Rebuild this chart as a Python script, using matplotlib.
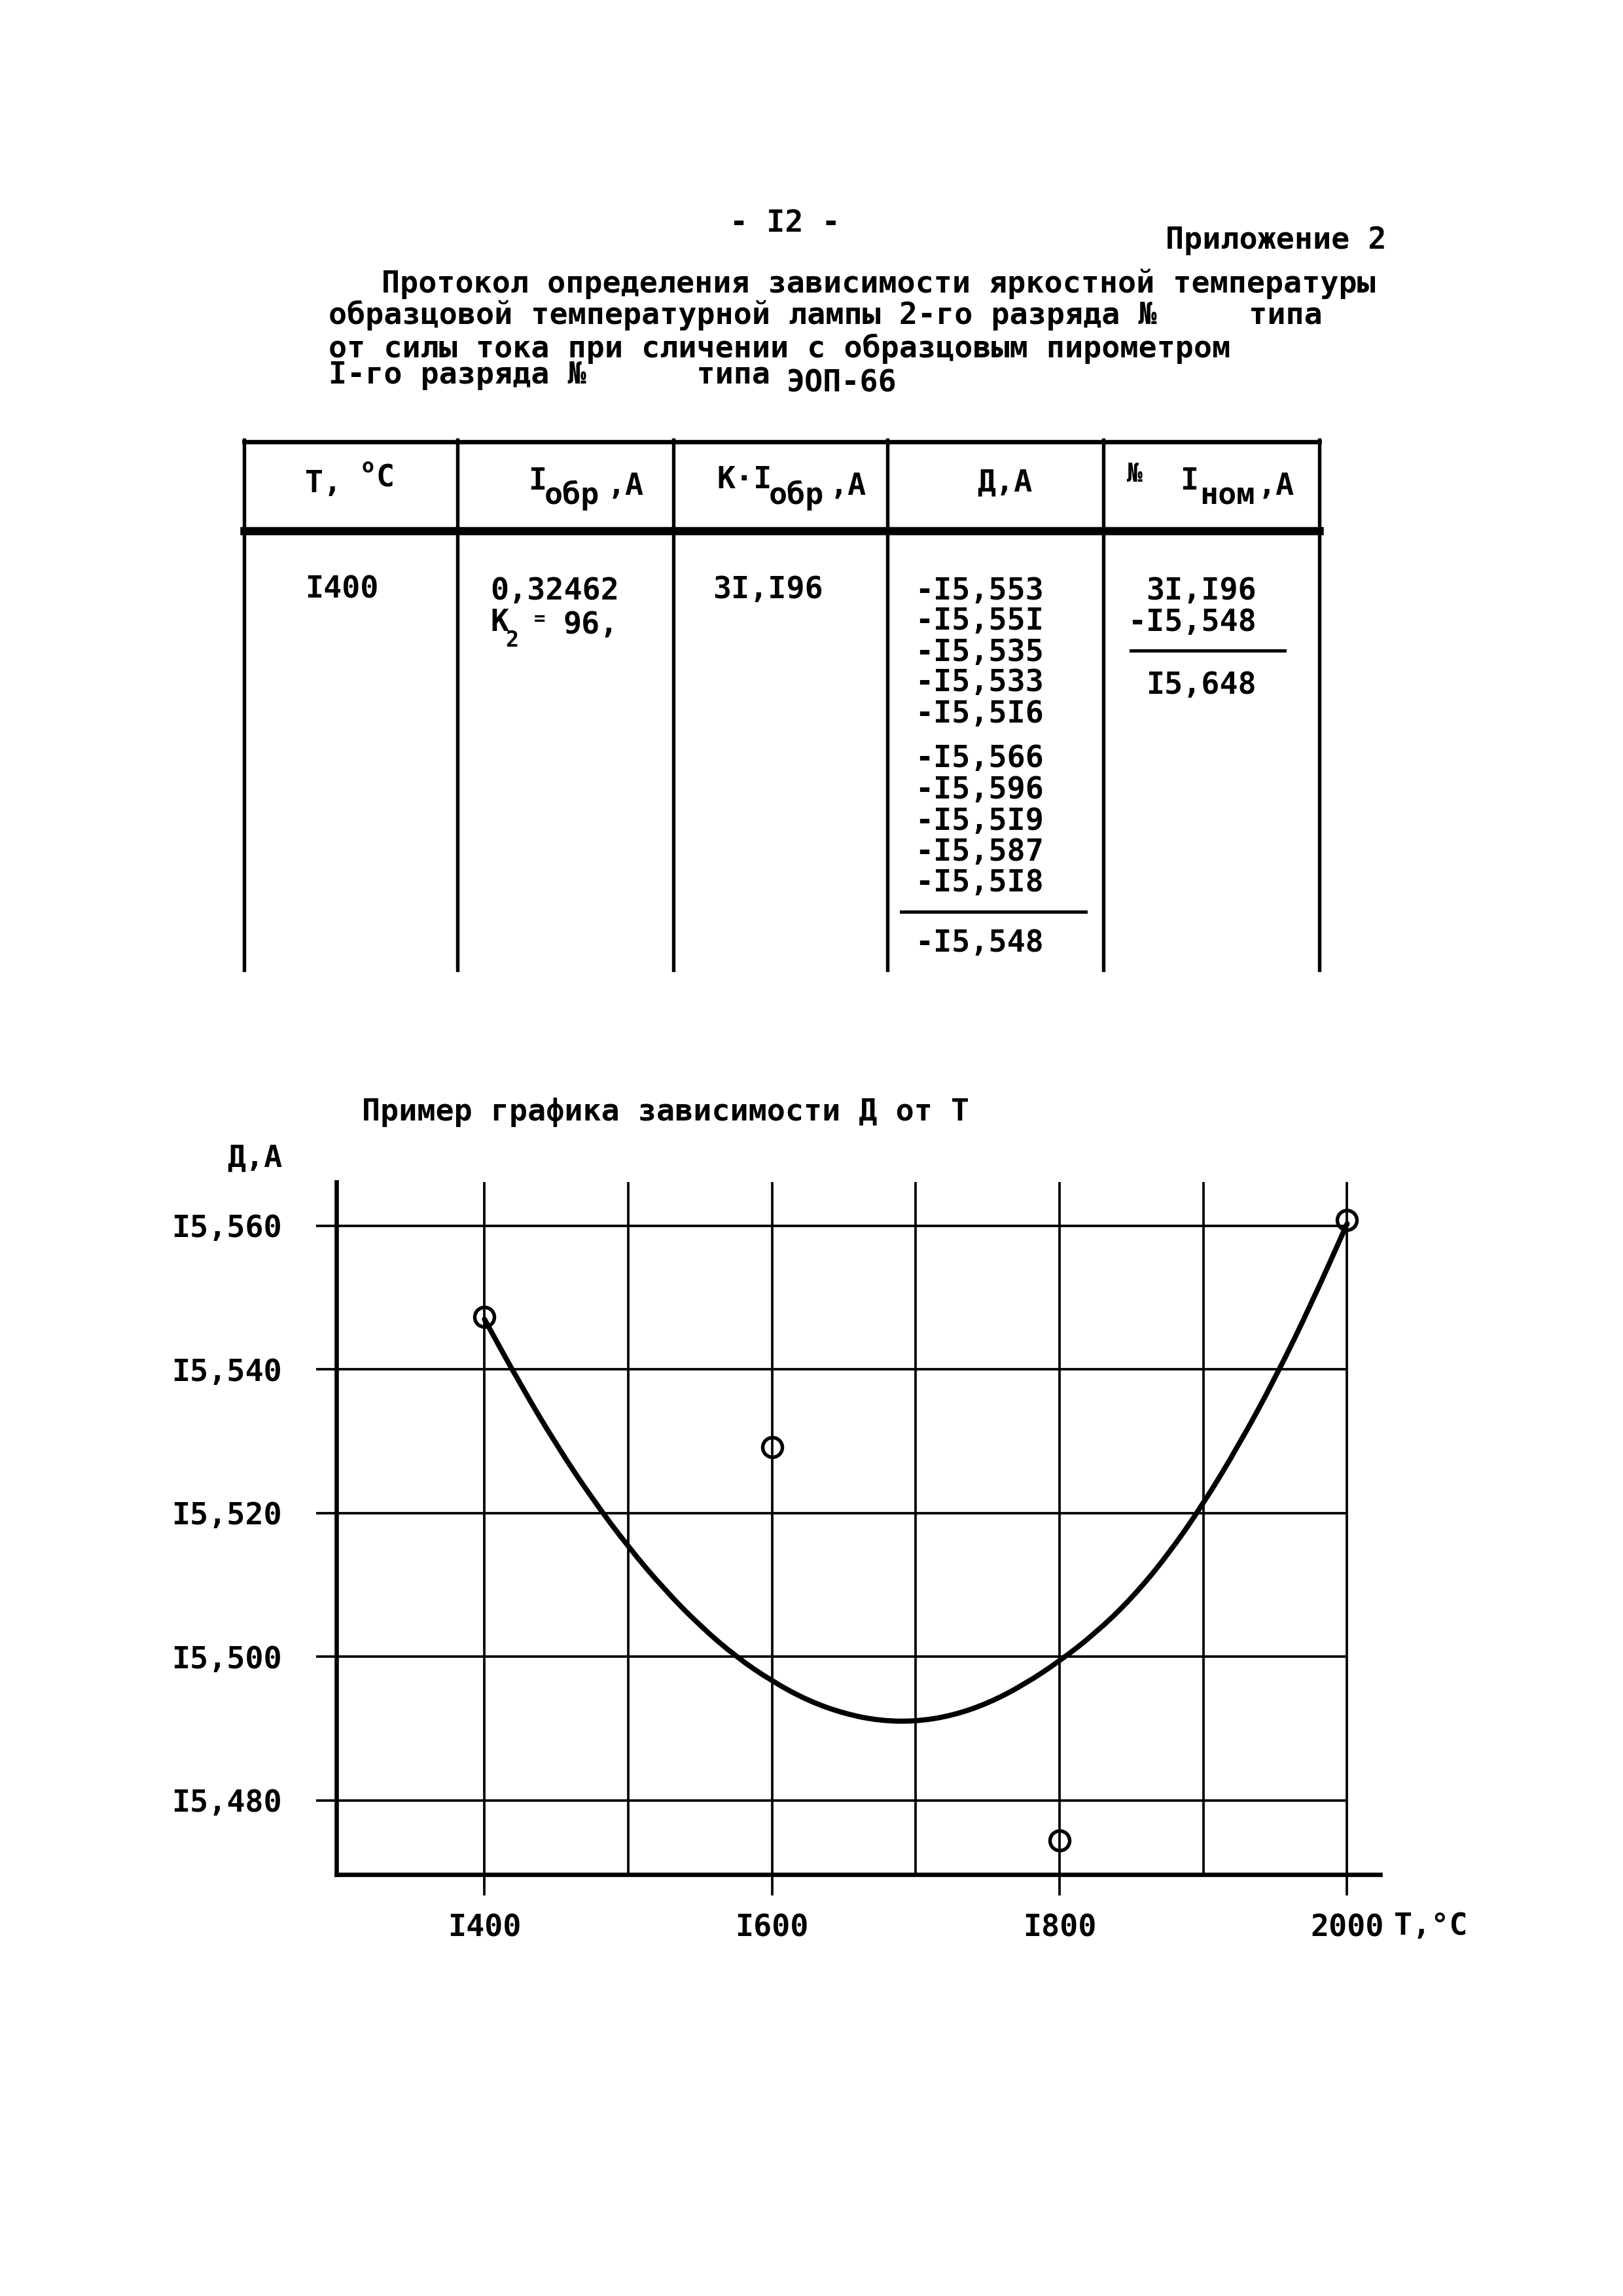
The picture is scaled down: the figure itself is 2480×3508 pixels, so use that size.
import matplotlib
matplotlib.use("Agg")
import matplotlib.pyplot as plt
from matplotlib.path import Path
from matplotlib.patches import PathPatch

FONT = ["DejaVu Sans Mono", "DejaVu Sans"]
plt.rcParams['font.family'] = FONT
plt.rcParams['font.weight'] = 'bold'

# ---------------- data ----------------
page_number = "- I2 -"
appendix_label = "Приложение 2"
protocol_lines = [
    "Протокол определения зависимости яркостной температуры",
    "образцовой температурной лампы 2-го разряда №     типа",
    "от силы тока при сличении с образцовым пирометром",
    "I-го разряда №      типа",
]
pyrometer_type = "ЭОП-66"

table_T = "I400"
table_I_obr = "0,32462"
table_K_value = "96,"
table_KI = "3I,I96"
table_D_group1 = ["-I5,553", "-I5,55I", "-I5,535", "-I5,533", "-I5,5I6"]
table_D_group2 = ["-I5,566", "-I5,596", "-I5,5I9", "-I5,587", "-I5,5I8"]
table_D_mean = "-I5,548"
table_I_nom_terms = ["3I,I96", "-I5,548"]
table_I_nom = "I5,648"

chart_title = "Пример графика зависимости Д от Т"
y_label = "Д,А"
x_label = "T,°C"
point_T = [1400, 1600, 1800, 2000]
point_D = [15547.3, 15529.2, 15474.4, 15560.8]
curve_T = [1400, 1425, 1450, 1475, 1500, 1525, 1550, 1575, 1600, 1625, 1650, 1675,
           1700, 1725, 1750, 1775, 1800, 1825, 1850, 1875, 1900, 1925, 1950, 1975, 2000]
curve_D = [15547.0, 15537.9, 15529.5, 15522.0, 15515.3, 15509.4, 15504.3, 15500.0,
           15496.6, 15493.9, 15492.1, 15491.1, 15491.0, 15491.8, 15493.5, 15496.1,
           15499.4, 15503.3, 15508.1, 15514.1, 15521.3, 15529.6, 15538.8, 15549.1, 15560.3]
y_ticks = [15480, 15500, 15520, 15540, 15560]
y_tick_labels = ["I5,480", "I5,500", "I5,520", "I5,540", "I5,560"]
x_ticks = [1400, 1600, 1800, 2000]
x_tick_labels = ["I400", "I600", "I800", "2000"]
x_minor_grid = [1500, 1700, 1900]

# ---------------- figure ----------------
W, H = 2480, 3508
fig = plt.figure(figsize=(W / 300, H / 300), dpi=300)
fig.patch.set_facecolor("white")

page = fig.add_axes([0, 0, 1, 1])
page.set_xlim(0, W)
page.set_ylim(H, 0)
page.axis("off")

FS = 11.2
K = "black"

def txt(x, y, s, ha="left", va="center", fs=FS, **kw):
    page.text(x, y, s, ha=ha, va=va, fontsize=fs, color=K, fontweight="bold", **kw)

# header
txt(1199, 341, page_number, ha="center")
txt(2118, 368, appendix_label, ha="right")
line_pos = [(583, 434), (502, 482), (502, 533), (502, 574)]
for (x, y), s in zip(line_pos, protocol_lines):
    txt(x, y, s)
txt(502 + 25 * 28, 586, pyrometer_type)

# table lines
cols = [373, 699, 1029, 1356, 1686, 2016]
page.plot([cols[0], cols[-1]], [675, 675], color=K, lw=1.6)
page.plot([cols[0], cols[-1]], [811, 811], color=K, lw=3.0)
for c in cols:
    page.plot([c, c], [672, 1482], color=K, lw=1.3)

# table header
txt(466, 740, "T,")
txt(552, 713, "o", fs=7.5)
txt(574, 731, "C")
txt(807, 736, "I")
txt(832, 757, "обр")
txt(928, 743, ",A")
txt(1095, 733, "К·I")
txt(1175, 757, "обр")
txt(1268, 743, ",A")
txt(1535, 738, "Д,А", ha="center")
txt(1721, 724, "№", fs=9.5)
txt(1803, 736, "I")
txt(1833, 758, "ном")
txt(1922, 743, ",A")

# table body
txt(466, 901, table_T)
txt(749, 903, table_I_obr)
txt(749, 952, "К")
txt(772, 978, "2", fs=8)
txt(816, 946, "=", fs=7)
txt(860, 956, table_K_value)
txt(1089, 901, table_KI)
for i, s in enumerate(table_D_group1):
    txt(1398, 903 + i * 47, s)
for i, s in enumerate(table_D_group2):
    txt(1398, 1160 + i * 47.5, s)
page.plot([1377, 1659], [1393, 1393], color=K, lw=1.2)
txt(1398, 1442, table_D_mean)
for i, s in enumerate(table_I_nom_terms):
    txt(1920, 903 + i * 48, s, ha="right")
page.plot([1728, 1963], [994, 994], color=K, lw=1.2)
txt(1920, 1048, table_I_nom, ha="right")

# chart texts
txt(553, 1700, chart_title)
txt(431, 1770, y_label, ha="right")
txt(2130, 2943, x_label)

# ---------------- chart ----------------
ax_l, ax_r, ax_t, ax_b = 514, 2109, 1806, 2864
ax = fig.add_axes([ax_l / W, 1 - ax_b / H, (ax_r - ax_l) / W, (ax_b - ax_t) / H])
ax.set_facecolor("none")
ax.set_xlim(1297, 2023)
ax.set_ylim(15469.7, 15566.1)
for side in ("top", "right"):
    ax.spines[side].set_visible(False)
for side in ("left", "bottom"):
    ax.spines[side].set_linewidth(1.6)
    ax.spines[side].set_color(K)

ax.set_yticks(y_ticks, y_tick_labels)
ax.set_xticks(x_ticks, x_tick_labels)
ax.tick_params(axis="y", length=0, pad=20, labelsize=FS)
ax.tick_params(axis="x", length=7.7, width=0.9, direction="out", pad=6.5, labelsize=FS)
for lab in ax.get_xticklabels() + ax.get_yticklabels():
    lab.set_fontweight("bold")

ax.hlines(y_ticks, 1283, 2000, colors=K, lw=0.9, clip_on=False)
ax.vlines(x_ticks + x_minor_grid, 15469.7, 15566.1, colors=K, lw=0.9)

# smooth hand-drawn curve: read points used as quadratic Bezier controls
pts = list(zip(curve_T, curve_D))
verts = [pts[0], ((pts[0][0] + pts[1][0]) / 2, (pts[0][1] + pts[1][1]) / 2)]
codes = [Path.MOVETO, Path.LINETO]
for i in range(1, len(pts) - 1):
    nxt = pts[i + 1]
    verts += [pts[i], ((pts[i][0] + nxt[0]) / 2, (pts[i][1] + nxt[1]) / 2)]
    codes += [Path.CURVE3, Path.CURVE3]
verts.append(pts[-1])
codes.append(Path.LINETO)
ax.add_patch(PathPatch(Path(verts, codes), fill=False, edgecolor=K, lw=1.9,
                       capstyle="round", joinstyle="round"))

ax.plot(point_T, point_D, "o", mfc="none", mec=K, ms=7.2, mew=1.3, clip_on=False)

fig.savefig("out.png", dpi=300, facecolor="white")
